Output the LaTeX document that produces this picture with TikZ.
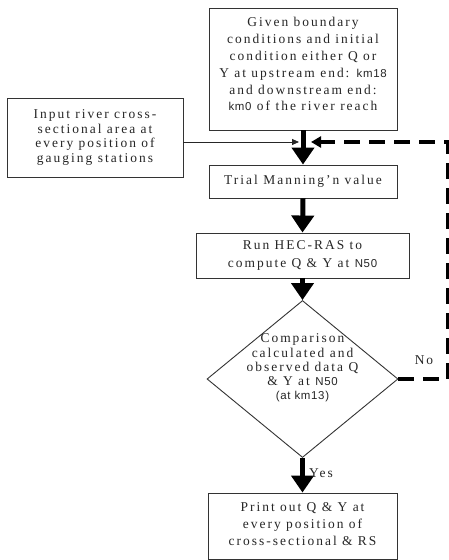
\documentclass[tikz,border=0pt]{standalone}
\usepackage{fontspec}
\setmainfont{Liberation Serif}[LetterSpace=15]
\newfontfamily\smf{Liberation Sans}[LetterSpace=6]
\usetikzlibrary{arrows.meta,shapes.geometric}
\begin{document}
\begin{tikzpicture}[x=1bp,y=-1bp,
  box/.style={draw=black!80, line width=0.9bp, inner sep=0pt, align=center, text=black!85,
              font=\fontsize{13.5}{17}\selectfont},
  txt/.style={inner sep=0pt, align=center, text=black!85, font=\fontsize{13.5}{17}\selectfont},
  bigarrow/.style={line width=5bp, draw=black, -{Triangle[length=17bp,width=22bp]}},
  thinarrow/.style={line width=0.8bp, draw=black!85, -{Triangle[length=7bp,width=6bp]}},
  loopline/.style={line width=3.5bp, draw=black, dash pattern=on 16bp off 9bp, -{Triangle[length=10bp,width=11bp]}}]
\useasboundingbox (0,0) rectangle (449,560);
\fill[white] (0,0) rectangle (449,560);

\node[box, minimum width=188bp, minimum height=122bp] (given) at (303,69) {};
\node[txt] (giventext) at (303,64) {Given boundary\\conditions and initial\\condition either Q or\\Y at upstream end: {\smf\fontsize{11.5}{17}\selectfont km18}\\and downstream end:\\{\smf\fontsize{11.5}{17}\selectfont km0} of the river reach};

\node[box, minimum width=176bp, minimum height=79bp, font=\fontsize{13.5}{15}\selectfont] (input) at (95,137.5) {Input river cross-\\sectional area at\\every position of\\gauging stations};

\node[box, minimum width=188bp, minimum height=33bp] (trial) at (303,181.5) {Trial Manning'n value};

\node[box, minimum width=213bp, minimum height=45bp, font=\fontsize{13.5}{18}\selectfont] (run) at (302.5,255.5) {Run HEC-RAS to\\compute Q \& Y at {\smf\fontsize{11.5}{18}\selectfont N50}};

\node[draw=black!80, line width=0.9bp, shape=diamond, inner sep=0pt, minimum width=191bp, minimum height=157bp] (cmp) at (302.5,379) {};
\node[txt, font=\fontsize{13.5}{14.2}\selectfont] (cmptext) at (302.5,368) {Comparison\\calculated and\\observed data Q\\\& Y at {\smf\fontsize{11.5}{14}\selectfont N50}\\{\smf\fontsize{11.5}{15}\selectfont (at km13)}};

\node[box, minimum width=189bp, minimum height=66bp] (print) at (302.5,526) {};
\node[txt] (printtext) at (302.5,524.5) {Print out Q \& Y at\\every position of\\cross-sectional \& RS};

\coordinate (join) at (303,142);
\coordinate (loop) at (448,142);

\draw[bigarrow] (given.south) -- (trial.north);
\draw[bigarrow] (trial.south) -- (run.north);
\draw[bigarrow] (run.south) -- (cmp.north);
\draw[bigarrow] (cmp.south) -- (print.north);
\node[txt, anchor=west] (yes) at (309,473) {Yes};

\draw[thinarrow] (input.east |- join) -- ([xshift=-4bp]join);
\draw[loopline] (cmp.east) -| (loop) -- ([xshift=8bp]join);
\node[txt] (no) at (424,360) {No};
\end{tikzpicture}
\end{document}
